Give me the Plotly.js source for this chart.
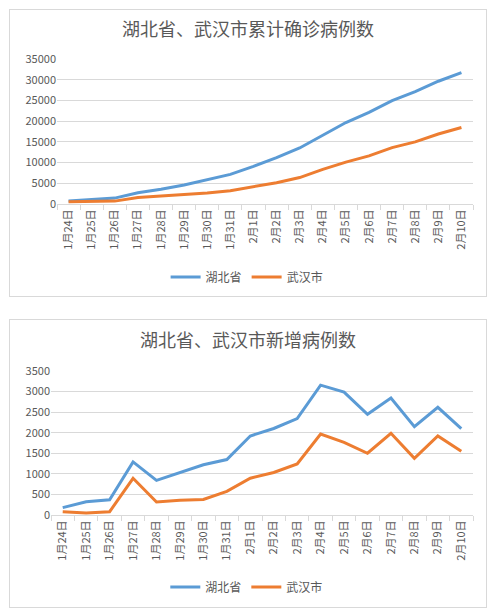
<!DOCTYPE html>
<html>
<head>
<meta charset="utf-8">
<script src="https://cdn.plot.ly/plotly-3.0.1.min.js"></script>
<style>
  body { margin: 0; background: #fff; }
  .box { position: absolute; border: 1px solid #d9d9d9; box-sizing: border-box; background: #fff; }
  #chart1 { left: 9px; top: 9px; width: 478px; height: 288px; }
  #chart2 { left: 9px; top: 319px; width: 478px; height: 289px; }
</style>
</head>
<body>
<div id="chart1" class="box"></div>
<div id="chart2" class="box"></div>
<script>
// dates 1/24 - 2/10
const days = ['1月24日', '1月25日', '1月26日', '1月27日', '1月28日', '1月29日', '1月30日', '1月31日',
  '2月1日', '2月2日', '2月3日', '2月4日', '2月5日', '2月6日', '2月7日', '2月8日', '2月9日', '2月10日'];

// cumulative confirmed
const hubeiTotal = [729, 1052, 1423, 2714, 3554, 4586, 5806, 7153, 9074, 11177, 13522, 16678, 19665, 22112, 24953, 27100, 29631, 31728];
const wuhanTotal = [572, 618, 698, 1590, 1905, 2261, 2639, 3215, 4109, 5142, 6384, 8351, 10117, 11618, 13603, 14982, 16902, 18454];

// new cases per day
const hubeiNew = [180, 323, 371, 1291, 840, 1032, 1220, 1347, 1921, 2103, 2345, 3156, 2987, 2447, 2841, 2147, 2618, 2097];
const wuhanNew = [77, 46, 80, 892, 315, 356, 378, 576, 894, 1033, 1242, 1967, 1766, 1501, 1985, 1379, 1920, 1552];

const names = ['湖北省', '武汉市'];
const colors = ['#5b9bd5', '#ed7d31'];
const font = '"Noto Sans CJK SC", "Liberation Sans", sans-serif';

function drawChart(el, title, series, yMax, yStep, m, legendX, legendY, titleY) {
  const data = series.map((ys, i) => ({
    x: days,
    y: ys,
    name: names[i],
    type: 'scatter',
    mode: 'lines',
    line: {color: colors[i], width: 3}
  }));

  const layout = {
    width: 476,
    height: el.clientHeight,
    margin: m,
    paper_bgcolor: '#fff',
    plot_bgcolor: '#fff',
    font: {family: font, color: '#595959', size: 11},
    title: {
      text: title,
      font: {family: font, size: 18, color: '#595959'},
      x: 0.5, xref: 'container', xanchor: 'center',
      y: titleY, yref: 'container', yanchor: 'middle'
    },
    xaxis: {
      type: 'category',
      range: [-0.5, days.length - 0.5],
      automargin: false,
      tickangle: -90,
      tickson: 'boundaries',
      ticks: 'outside',
      ticklen: 5,
      tickcolor: '#d9d9d9',
      showline: true,
      linecolor: '#d9d9d9',
      showgrid: false,
      tickfont: {size: 11, color: '#595959'}
    },
    yaxis: {
      range: [0, yMax],
      dtick: yStep,
      tickformat: 'd',
      automargin: false,
      showgrid: true,
      gridcolor: '#d9d9d9',
      zeroline: false,
      ticks: '',
      tickfont: {size: 11, color: '#595959'}
    },
    showlegend: true,
    legend: {
      orientation: 'h',
      x: legendX, xanchor: 'center',
      y: legendY, yref: 'container', yanchor: 'middle',
      font: {size: 12, color: '#595959'},
      itemwidth: 30
    }
  };

  Plotly.newPlot(el, data, layout, {staticPlot: true, displayModeBar: false});
}

drawChart(document.getElementById('chart1'), '湖北省、武汉市累计确诊病例数',
  [hubeiTotal, wuhanTotal], 35000, 5000, {l: 47, r: 13, t: 49, b: 92}, 0.457, 0.066, 0.93);

drawChart(document.getElementById('chart2'), '湖北省、武汉市新增病例数',
  [hubeiNew, wuhanNew], 3500, 500, {l: 41, r: 13, t: 51, b: 92}, 0.464, 0.07, 0.927);
</script>
</body>
</html>
